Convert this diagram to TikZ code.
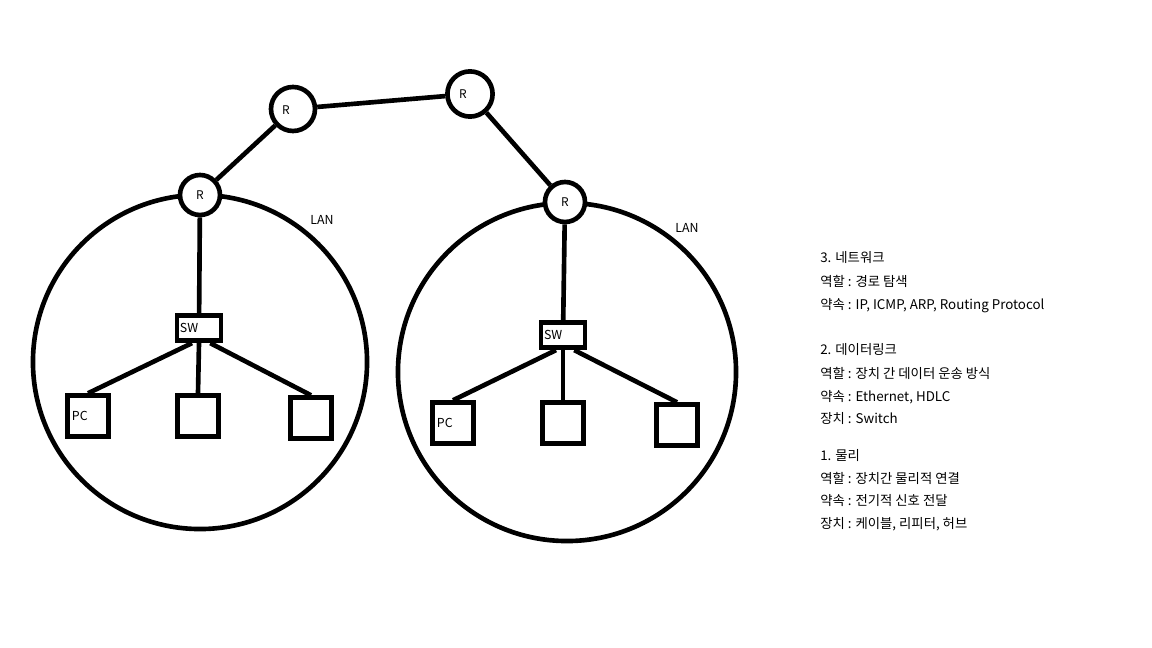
\documentclass[tikz,border=0pt]{standalone}
\usepackage{fontspec}
\setmainfont{Noto Sans CJK KR}
\begin{document}
\begin{tikzpicture}[x=0.025cm,y=-0.025cm,every path/.style={line width=3.3pt},
    router/.style={draw,circle,fill=white,inner sep=0pt,font=\fontsize{8.5}{9}\selectfont},
    swbox/.style={draw,rectangle,fill=white,minimum width=1.1cm,minimum height=0.64cm,inner sep=0pt,font=\fontsize{8.8}{9}\selectfont},
    pcbox/.style={draw,rectangle,fill=white,minimum size=1.02cm,inner sep=0pt,font=\fontsize{8.8}{9}\selectfont},
    lan/.style={draw,circle,inner sep=0pt},
    note/.style={anchor=base west,inner sep=0pt,font=\fontsize{9.5}{11}\selectfont}]
          \useasboundingbox[draw=none,line width=0pt] (0,0) rectangle (1152,648);
          % LAN circles
          \node[lan,minimum size=8.35cm] (lanL) at (200,362) {};
          \node[lan,minimum size=8.45cm] (lanR) at (567,372) {};
          \node[inner sep=0pt,font=\fontsize{8.8}{9}\selectfont] (lanLtxt) at (322,220) {LAN};
          \node[inner sep=0pt,font=\fontsize{8.8}{9}\selectfont] (lanRtxt) at (687,228) {LAN};

          % routers
          \node[router,minimum size=1.0cm] (rA) at (200,195) {R};
          \node[router,minimum size=1.1cm] (rB) at (293,109) {\hspace*{-10pt}\raisebox{-8pt}{R}};
          \node[router,minimum size=1.13cm] (rC) at (470,94) {\hspace*{-10pt}\raisebox{-4pt}{R}};
          \node[router,minimum size=1.0cm] (rD) at (565,202) {R};

          % switches and hosts
          \node[swbox,text width=0.95cm,align=left] (swA) at (199,328) {SW};
          \node[swbox,text width=0.95cm,align=left] (swB) at (563,335) {SW};
          \node[pcbox,text width=0.8cm,align=left] (pcA) at (88,416) {PC};
          \node[pcbox] (hA) at (198,416) {};
          \node[pcbox] (hB) at (311,418) {};
          \node[pcbox,text width=0.8cm,align=left] (pcB) at (453,423) {PC};
          \node[pcbox] (hC) at (563,423) {};
          \node[pcbox] (hD) at (677,425) {};

          \draw (rA) -- (rB);
          \draw (rB) -- (rC);
          \draw (rC) -- (rD);
          \draw (rA) -- (swA);
          \draw (rD) -- (swB);
          \draw ([xshift=-5pt]swA.south) -- (pcA.north);
          \draw (swA.south) -- (hA.north);
          \draw ([xshift=8pt]swA.south) -- (hB.north);
          \draw ([xshift=-5pt]swB.south) -- (pcB.north);
          \draw (swB.south) -- (hC.north);
          \draw ([xshift=8pt]swB.south) -- (hD.north);

          % layer notes
          \foreach \y/\t [count=\i] in {263/{3. 네트워크},287/{역할 : 경로 탐색},310/{약속 : IP, ICMP, ARP, Routing Protocol},
              355/{2. 데이터링크},379/{역할 : 장치 간 데이터 운송 방식},402/{약속 : Ethernet, HDLC},424/{장치 : Switch},
              461/{1. 물리},484/{역할 : 장치간 물리적 연결},506/{약속 : 전기적 신호 전달},529/{장치 : 케이블, 리피터, 허브}}
            \node[note] (txt\i) at (818,\y) {\t};
        \end{tikzpicture}
\end{document}
